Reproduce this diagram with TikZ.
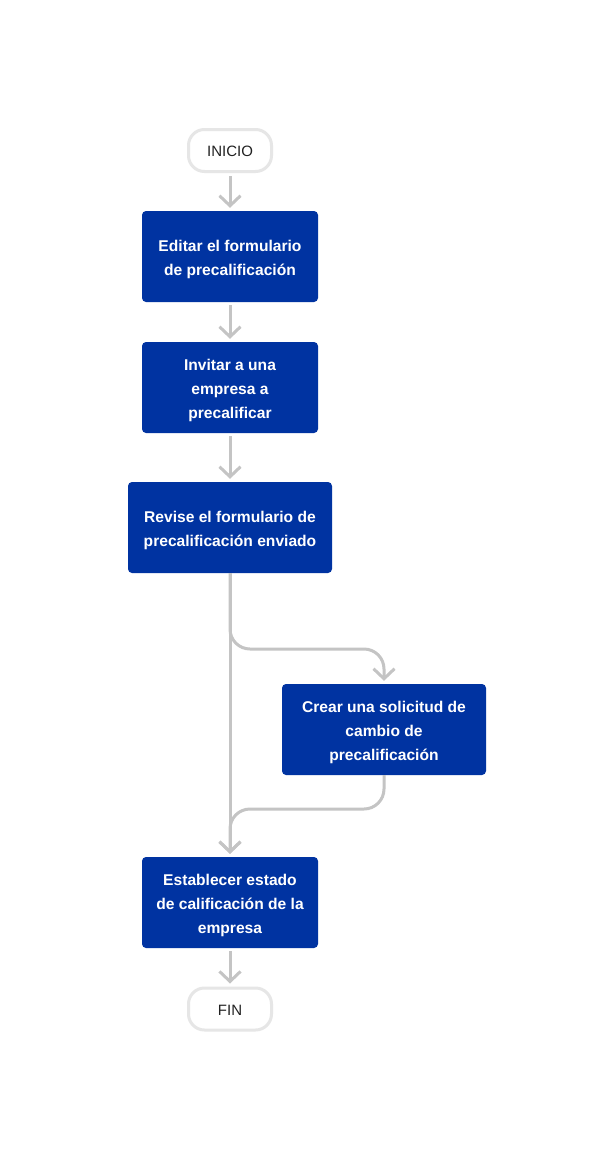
\documentclass[tikz,border=0pt]{standalone}
\usepackage{fontspec}
\setmainfont{Liberation Sans}
\usetikzlibrary{arrows.meta}
\definecolor{boxblue}{HTML}{0033A1}
\definecolor{arrgray}{HTML}{C4C4C4}
\definecolor{pillgray}{HTML}{E6E6E6}
\newcommand\mlines[1]{\raisebox{-2pt}[\height][\depth]{\begin{tabular}{@{}c@{}}#1\end{tabular}}}
\newcommand\plabel[1]{\raisebox{-1pt}[\height][\depth]{#1}}
\begin{document}
\begin{tikzpicture}[x=1pt,y=-1pt,
  stepbox/.style={fill=boxblue, rounded corners=4pt, minimum width=176pt, minimum height=91pt, inner sep=0pt,
    text=white, font=\fontsize{15.6}{24}\selectfont\bfseries},
  widebox/.style={stepbox, minimum width=204pt},
  pill/.style={draw=pillgray, line width=3pt, fill=white, rounded corners=16pt, minimum width=83pt, minimum height=42pt,
    inner sep=0pt, font=\fontsize{15}{18}\selectfont, text=black!87},
  arr/.style={draw=arrgray, line width=3pt, -{Straight Barb[length=10pt,width=21pt,line width=3pt]}, shorten >=3pt}
]
\useasboundingbox (0,0) rectangle (614,1160);
\fill[white] (0,0) rectangle (614,1160);

\node[pill] (ini) at (230,150.5) {\plabel{INICIO}};
\node[stepbox] (b1) at (230,256.5) {\mlines{Editar el formulario\\de precalificación}};
\node[stepbox] (b2) at (230,387.5) {\mlines{Invitar a una\\empresa a\\precalificar}};
\node[widebox] (b3) at (230,527.5) {\mlines{Revise el formulario de\\precalificación enviado}};
\node[widebox] (b4) at (384,729.5) {\mlines{Crear una solicitud de\\cambio de\\precalificación}};
\node[stepbox] (b5) at (230,902.5) {\mlines{Establecer estado\\de calificación de la\\empresa}};
\node[pill] (fin) at (230,1009) {\plabel{FIN}};

\coordinate (j1) at (384,649);
\coordinate (j2) at (384,809);

\draw[arr] (ini.south) ++(0,3) -- (b1.north);
\draw[arr] (b1.south) ++(0,3) -- (b2.north);
\draw[arr] (b2.south) ++(0,3) -- (b3.north);
\draw[arr] (b3.south) -- (b5.north);
\draw[arr, rounded corners=20pt] (b3.south) |- (j1) -- (b4.north);
\draw[arr, rounded corners=20pt] (b4.south) -- (j2) -| (b5.north);
\draw[arr] (b5.south) ++(0,3) -- (fin.north);
\end{tikzpicture}
\end{document}
